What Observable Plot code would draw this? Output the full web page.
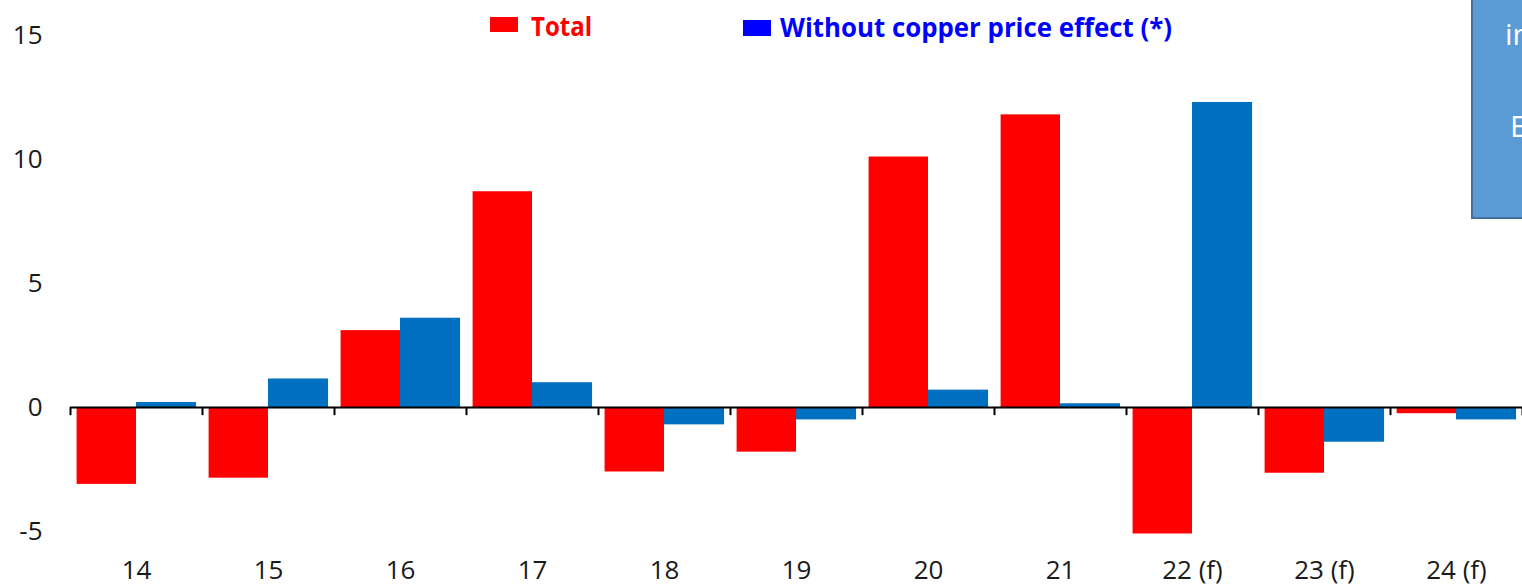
<!DOCTYPE html>
<html><head><meta charset="utf-8">
<script src="https://cdn.jsdelivr.net/npm/d3@7"></script>
<script src="https://cdn.jsdelivr.net/npm/@observablehq/plot@0.6"></script>
<style>
html,body{margin:0;padding:0;background:#fff;overflow:hidden}
#wrap{position:relative;width:1522px;height:586px;overflow:hidden}
#legend{position:absolute;left:0;top:0;pointer-events:none}
#box{position:absolute;left:1471px;top:-2px;width:60px;height:221px;background:#5b9bd5;border:2px solid #41719c;overflow:hidden;box-sizing:border-box}
#box span{position:absolute;color:#fff;font-family:"Open Sans",sans-serif;font-size:30px;line-height:1;white-space:nowrap}
</style></head><body><div id="wrap"></div>
<script>
const categories = ["14","15","16","17","18","19","20","21","22 (f)","23 (f)","24 (f)"];
const total = [-3.1,-2.85,3.1,8.7,-2.6,-1.8,10.1,11.8,-5.1,-2.65,-0.25];
const withoutCopper = [0.2,1.15,3.6,1.0,-0.7,-0.5,0.7,0.15,12.3,-1.4,-0.5];
const yTicks = [-5,0,5,10,15];
const seriesLabels = ["Total","Without copper price effect (*)"];
const seriesColors = ["#ff0000","#0070c0"];
const legendColors = ["#ff0000","#0000ff"];

const rows = categories.flatMap((c,i)=>[
  {i, cat:c, series:seriesLabels[0], value: total[i], k:0},
  {i, cat:c, series:seriesLabels[1], value: withoutCopper[i], k:1}
]);

const chart = Plot.plot({
  width:1522, height:586, marginLeft:70, marginRight:0, marginTop:35, marginBottom:55,
  style:{fontFamily:"'Open Sans', sans-serif", fontSize:"26px", color:"#1a1a1a", background:"white"},
  x:{type:"linear", domain:[0, categories.length], label:null},
  y:{domain:[-5,15], label:null},
  color:{domain:seriesLabels, range:seriesColors},
  marks:[
    Plot.rectY(rows, {x1: d => d.i + (d.k===0 ? 0.05 : 0.5), x2: d => d.i + (d.k===0 ? 0.5 : 0.955), y1: 0, y2: "value", fill: "series"}),
    Plot.ruleY([0], {stroke:"black", strokeWidth:2}),
    Plot.ruleX(d3.range(categories.length+1), {y1:0, y2:-0.33, stroke:"black", strokeWidth:2}),
    Plot.axisY({ticks:yTicks, tickSize:0, tickPadding:28, tickFormat:d=>String(d), fontSize:26, label:null}),
    Plot.axisX({ticks:categories.map((c,i)=>i+0.5), tickFormat:v=>categories[Math.floor(v)], tickSize:0, tickPadding:29, fontSize:26, label:null})
  ]
});
const wrap = document.getElementById("wrap");
wrap.appendChild(chart);

// legend overlay
const ns = "http://www.w3.org/2000/svg";
const lg = document.createElementNS(ns,"svg");
lg.setAttribute("id","legend"); lg.setAttribute("width",1522); lg.setAttribute("height",60);
const legendItems = [
  {sx:490, sy:17, sw:28, sh:15, tx:531, ty:36, tl:61},
  {sx:743, sy:20, sw:28, sh:16, tx:780, ty:37, tl:392}
];
legendItems.forEach((it,j)=>{
  const r = document.createElementNS(ns,"rect");
  r.setAttribute("x",it.sx); r.setAttribute("y",it.sy); r.setAttribute("width",it.sw); r.setAttribute("height",it.sh);
  r.setAttribute("fill",legendColors[j]); lg.appendChild(r);
  const t = document.createElementNS(ns,"text");
  t.setAttribute("x",it.tx); t.setAttribute("y",it.ty);
  t.setAttribute("fill",legendColors[j]);
  t.setAttribute("font-family","'Open Sans', sans-serif");
  t.setAttribute("font-weight","bold"); t.setAttribute("font-size","27");
  t.setAttribute("textLength",it.tl); t.setAttribute("lengthAdjust","spacingAndGlyphs");
  t.textContent = seriesLabels[j]; lg.appendChild(t);
});
wrap.appendChild(lg);

// partially visible text box at right (cut off at the page edge, as in the reference)
const box = document.createElement("div"); box.id="box";
box.innerHTML = '<span style="left:32px;top:19px">in</span><span style="left:37px;top:111px">E</span>';
wrap.appendChild(box);
</script>
</body></html>
